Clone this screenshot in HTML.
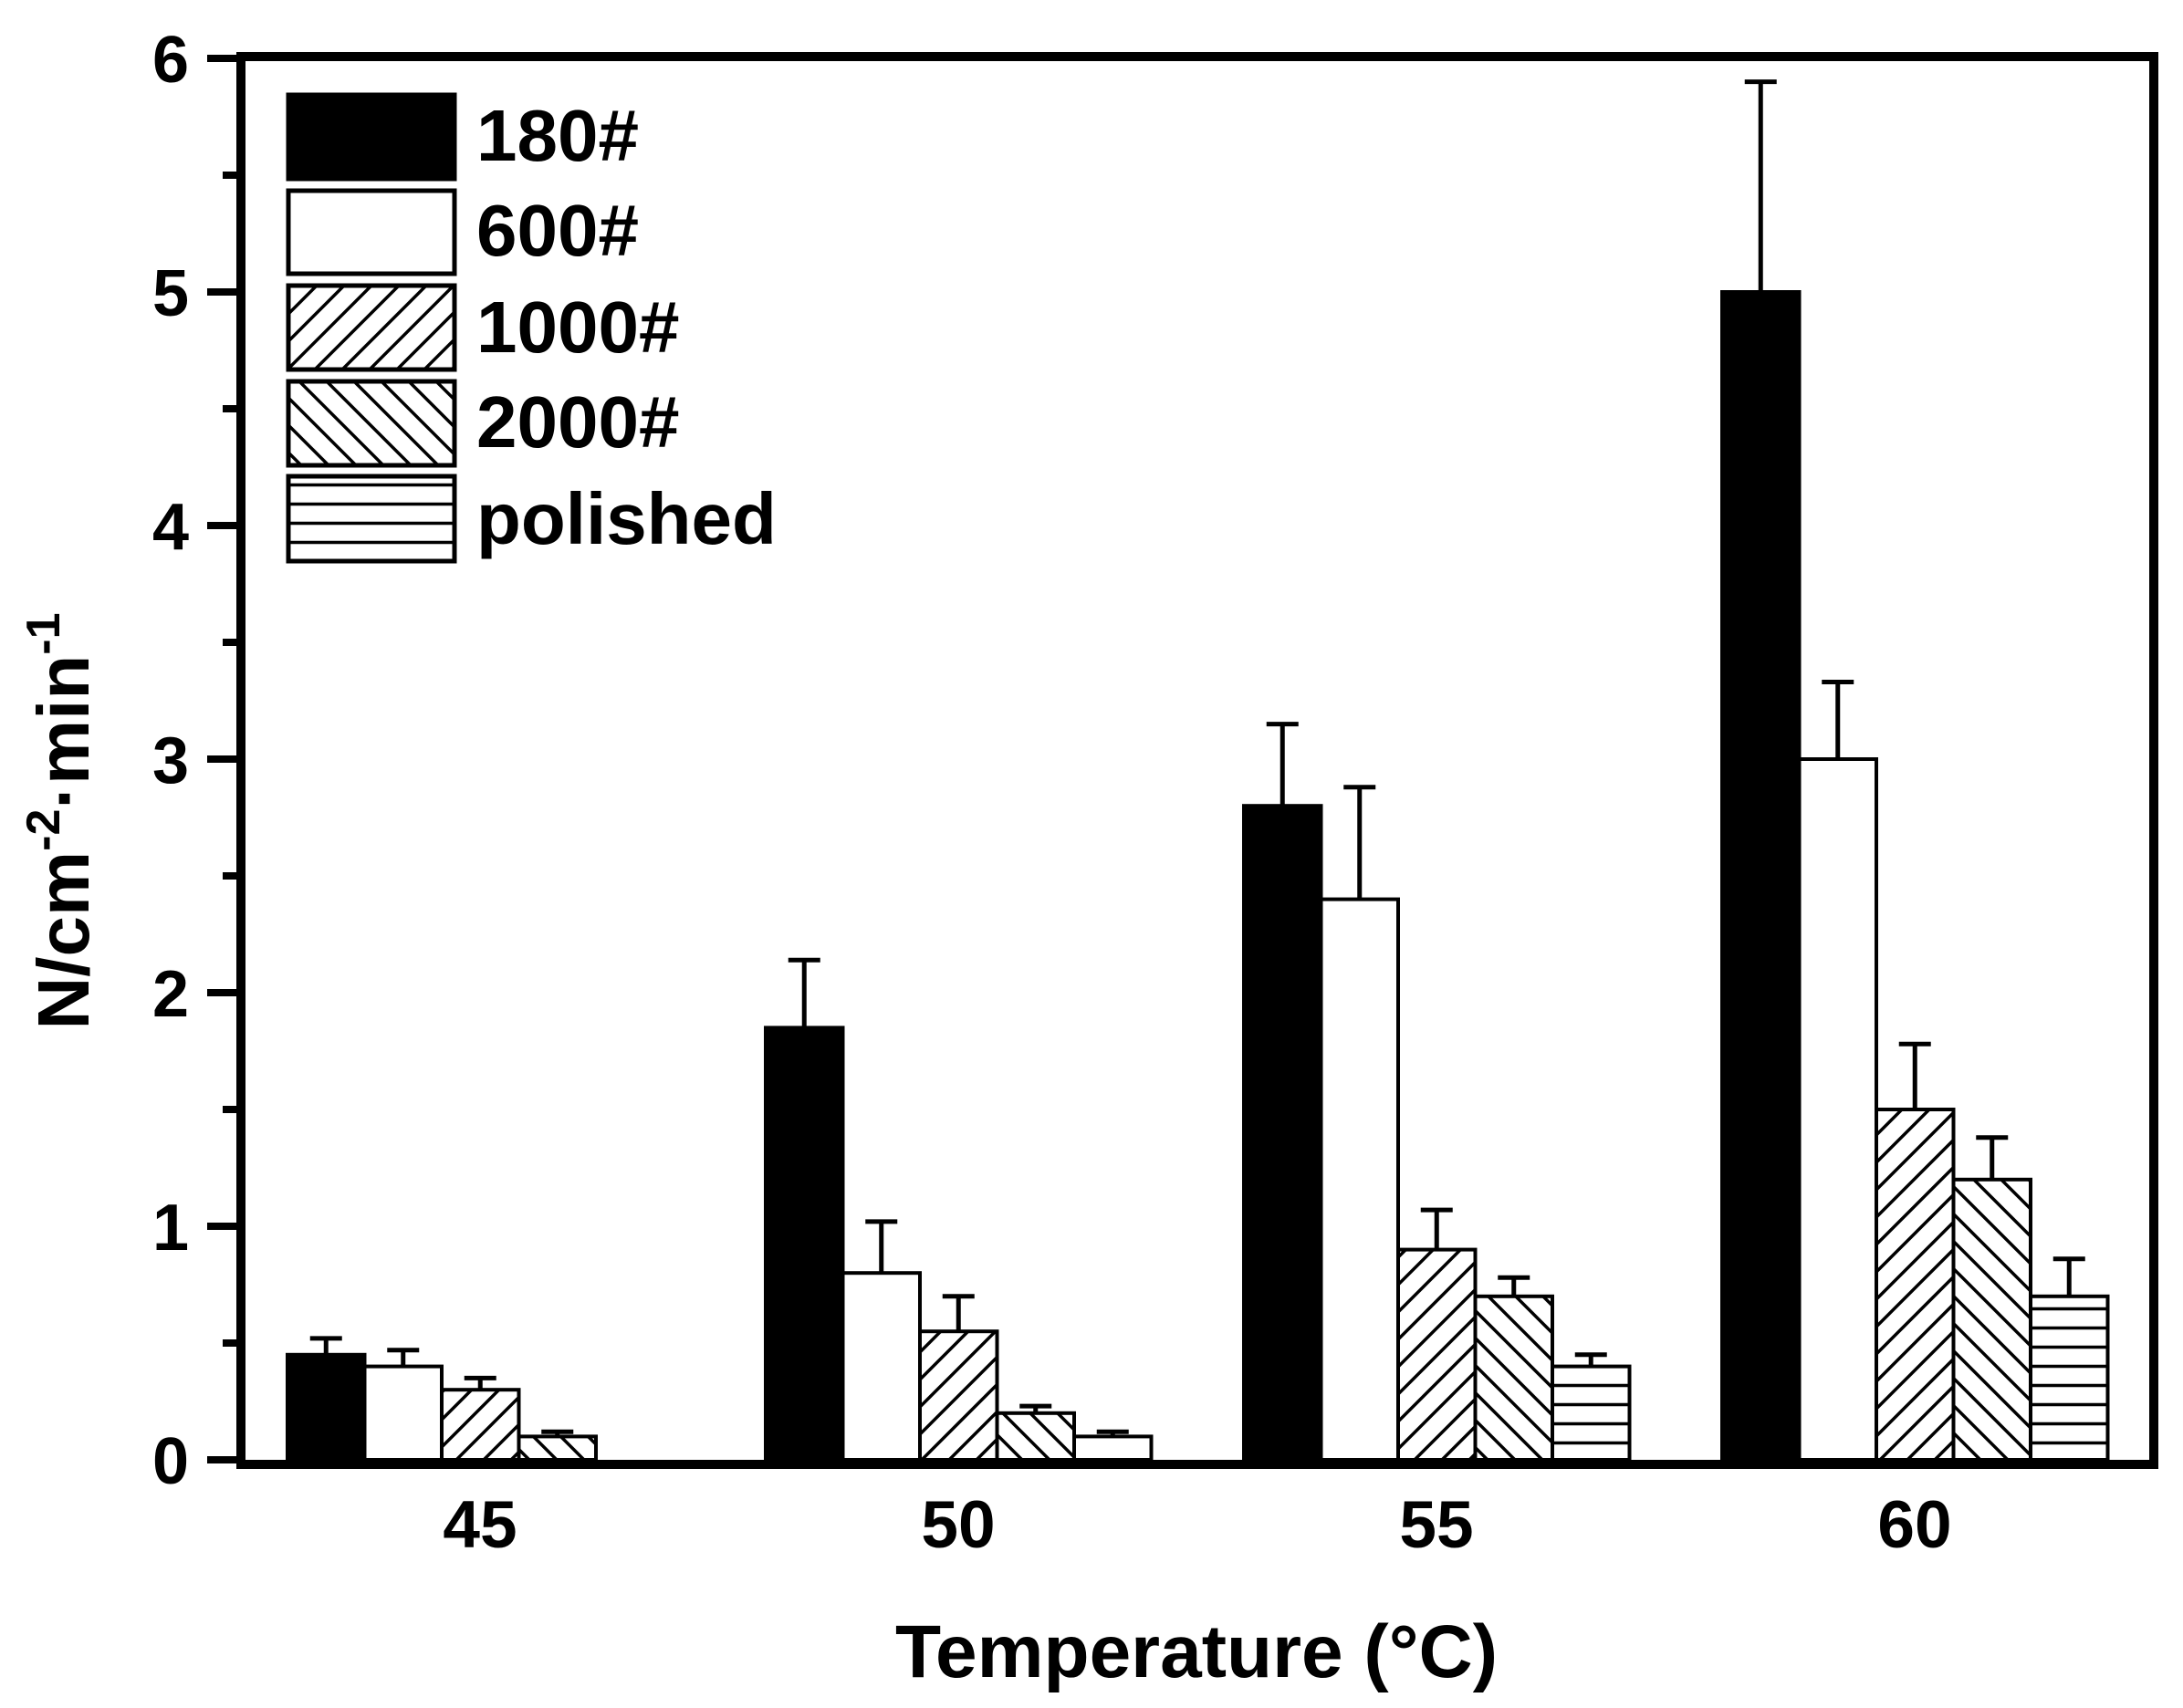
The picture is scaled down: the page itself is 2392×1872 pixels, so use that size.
<!DOCTYPE html>
<html><head><meta charset="utf-8"><style>html,body{margin:0;padding:0;background:#fff}svg{display:block}</style></head>
<body>
<svg width="2392" height="1872" viewBox="0 0 2392 1872" xmlns="http://www.w3.org/2000/svg" font-family="Liberation Sans, Arial, sans-serif" font-weight="bold">
<defs>
<pattern id="p1" patternUnits="userSpaceOnUse" width="30" height="30">
<rect width="30" height="30" fill="#fff"/>
<path d="M-5,5 L5,-5 M0,30 L30,0 M25,35 L35,25" stroke="#000" stroke-width="3.5"/>
</pattern>
<pattern id="p2" patternUnits="userSpaceOnUse" width="30" height="30">
<rect width="30" height="30" fill="#fff"/>
<path d="M-5,25 L5,35 M0,0 L30,30 M25,-5 L35,5" stroke="#000" stroke-width="3.5"/>
</pattern>
<pattern id="p3" patternUnits="userSpaceOnUse" width="30" height="21" y="-4">
<rect width="30" height="21" fill="#fff"/>
<path d="M0,10.5 L30,10.5" stroke="#000" stroke-width="3.5"/>
</pattern>
</defs>

<!-- bars -->
<g stroke="#000" stroke-width="4">
<!-- 45 -->
<rect x="315" y="1484.8" width="84.5" height="115.2" fill="#000"/>
<rect x="399.5" y="1497.6" width="84.5" height="102.4" fill="#fff"/>
<rect x="484" y="1523.2" width="84.5" height="76.8" fill="url(#p1)"/>
<rect x="568.5" y="1574.4" width="84.5" height="25.6" fill="url(#p2)"/>
<!-- 50 -->
<rect x="839" y="1126.4" width="84.5" height="473.6" fill="#000"/>
<rect x="923.5" y="1395.2" width="84.5" height="204.8" fill="#fff"/>
<rect x="1008" y="1459.2" width="84.5" height="140.8" fill="url(#p1)"/>
<rect x="1092.5" y="1548.8" width="84.5" height="51.2" fill="url(#p2)"/>
<rect x="1177" y="1574.4" width="84.5" height="25.6" fill="#fff"/>
<!-- 55 -->
<rect x="1363" y="883.2" width="84.5" height="716.8" fill="#000"/>
<rect x="1447.5" y="985.6" width="84.5" height="614.4" fill="#fff"/>
<rect x="1532" y="1369.6" width="84.5" height="230.4" fill="url(#p1)"/>
<rect x="1616.5" y="1420.8" width="84.5" height="179.2" fill="url(#p2)"/>
<rect x="1701" y="1497.6" width="84.5" height="102.4" fill="url(#p3)"/>
<!-- 60 -->
<rect x="1887" y="320" width="84.5" height="1280" fill="#000"/>
<rect x="1971.5" y="832" width="84.5" height="768" fill="#fff"/>
<rect x="2056" y="1216" width="84.5" height="384" fill="url(#p1)"/>
<rect x="2140.5" y="1292.8" width="84.5" height="307.2" fill="url(#p2)"/>
<rect x="2225" y="1420.8" width="84.5" height="179.2" fill="url(#p3)"/>
</g>

<!-- error bars -->
<g stroke="#000" stroke-width="5" fill="none">
<path d="M357.25,1484.8V1466.9M339.75,1466.9h35"/>
<path d="M441.75,1497.6V1479.7M424.25,1479.7h35"/>
<path d="M526.25,1523.2V1510.4M508.75,1510.4h35"/>
<path d="M610.75,1574.4V1569.3M593.25,1569.3h35"/>

<path d="M881.25,1126.4V1052.2M863.75,1052.2h35"/>
<path d="M965.75,1395.2V1338.9M948.25,1338.9h35"/>
<path d="M1050.25,1459.2V1420.8M1032.75,1420.8h35"/>
<path d="M1134.75,1548.8V1541.1M1117.25,1541.1h35"/>
<path d="M1219.25,1574.4V1569.3M1201.75,1569.3h35"/>

<path d="M1405.25,883.2V793.6M1387.75,793.6h35"/>
<path d="M1489.75,985.6V862.7M1472.25,862.7h35"/>
<path d="M1574.25,1369.6V1326.1M1556.75,1326.1h35"/>
<path d="M1658.75,1420.8V1400.3M1641.25,1400.3h35"/>
<path d="M1743.25,1497.6V1484.8M1725.75,1484.8h35"/>

<path d="M1929.25,320V89.6M1911.75,89.6h35"/>
<path d="M2013.75,832V747.5M1996.25,747.5h35"/>
<path d="M2098.25,1216V1144.3M2080.75,1144.3h35"/>
<path d="M2182.75,1292.8V1246.7M2165.25,1246.7h35"/>
<path d="M2267.25,1420.8V1379.8M2249.75,1379.8h35"/>
</g>

<!-- frame -->
<rect x="264" y="62" width="2096" height="1543" fill="none" stroke="#000" stroke-width="10"/>

<!-- y ticks -->
<g stroke="#000" stroke-width="8">
<path d="M227,1600H264M227,1344H264M227,1088H264M227,832H264M227,576H264M227,320H264M227,64H264"/>
<path d="M244,1472H264M244,1216H264M244,960H264M244,704H264M244,448H264M244,192H264"/>
</g>
<g font-size="72" text-anchor="end" fill="#000">
<text x="207" y="1626">0</text>
<text x="207" y="1370">1</text>
<text x="207" y="1114">2</text>
<text x="207" y="858">3</text>
<text x="207" y="602">4</text>
<text x="207" y="346">5</text>
<text x="207" y="90">6</text>
</g>

<!-- x tick labels -->
<g font-size="73" text-anchor="middle" fill="#000">
<text x="526" y="1696">45</text>
<text x="1050" y="1696">50</text>
<text x="1574" y="1696">55</text>
<text x="2098" y="1696">60</text>
</g>

<!-- axis titles -->
<text x="1311" y="1838" font-size="82" text-anchor="middle" fill="#000">Temperature (°C)</text>
<text transform="translate(97,900) rotate(-90)" font-size="80" text-anchor="middle" fill="#000">N/cm<tspan font-size="52" dy="-32">-2</tspan><tspan dy="32">·min</tspan><tspan font-size="52" dy="-32">-1</tspan></text>

<!-- legend -->
<g stroke="#000" stroke-width="5">
<rect x="316" y="104" width="182" height="92" fill="#000"/>
<rect x="316" y="209" width="182" height="91" fill="#fff"/>
<rect x="316" y="313" width="182" height="92" fill="url(#p1)"/>
<rect x="316" y="418" width="182" height="92" fill="url(#p2)"/>
<rect x="316" y="522" width="182" height="93" fill="url(#p3)"/>
</g>
<g font-size="80" fill="#000">
<text x="522" y="176">180#</text>
<text x="522" y="280">600#</text>
<text x="522" y="386">1000#</text>
<text x="522" y="490">2000#</text>
<text x="522" y="596">polished</text>
</g>
</svg>
</body></html>
